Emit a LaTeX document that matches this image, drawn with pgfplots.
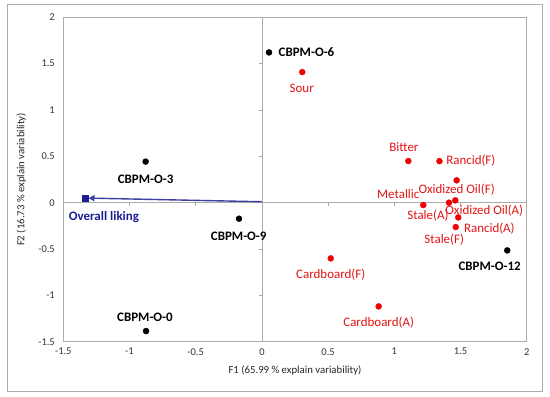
\documentclass[border=0pt]{standalone}
\usepackage{fontspec}
\setmainfont{Carlito}
\usepackage{pgfplots}
\usepackage{pgfplotstable}
\pgfplotsset{compat=1.18}
\usetikzlibrary{arrows.meta}
\definecolor{navyb}{RGB}{28,28,150}
\definecolor{lblred}{RGB}{225,20,20}
\definecolor{ptred}{RGB}{240,0,0}

\pgfplotstableread{
x y
0.054 1.621
-0.878 0.443
-0.173 -0.173
-0.875 -1.385
1.853 -0.515
}\obs

\pgfplotstableread{
x y
0.305 1.409
1.106 0.449
1.341 0.448
1.471 0.241
1.413 0.000
1.219 -0.026
1.461 0.025
1.483 -0.159
1.464 -0.263
0.520 -0.601
0.882 -1.119
}\attr

\begin{document}
\begin{tikzpicture}
\path[use as bounding box] (-63.3bp,-55.3bp) rectangle (486.7bp,341.7bp);
\draw[gray!65, line width=0.9bp] (-56.3bp,-50bp) rectangle (479.4bp,337.7bp);
\begin{axis}[
  at={(0,0)}, anchor=south west,
  scale only axis, width=463.4bp, height=324.4bp,
  xmin=-1.5, xmax=2, ymin=-1.5, ymax=2,
  xtick={-1.5,-1,-0.5,0,0.5,1,1.5,2},
  ytick={-1.5,-1,-0.5,0,0.5,1,1.5,2},
  major tick length=0,
  axis line style={draw=gray!65, line width=0.9bp},
  ticklabel style={font=\fontsize{10.5}{12}\selectfont, text=black!80},
  /pgf/number format/assume math mode=true,
  yticklabel style={xshift=-5bp},
  xticklabel style={yshift=-3bp},
  clip=false,
]
\draw[gray!65, line width=0.8bp] (axis cs:0,-1.5) -- (axis cs:0,2);
\draw[gray!65, line width=0.8bp] (axis cs:-1.5,0) -- (axis cs:2,0);
\pgfplotsinvokeforeach{-1,-0.5,0.5,1,1.5}{
  \draw[gray!65, line width=0.8bp] ([yshift=-3bp]axis cs:#1,0) -- ([yshift=1bp]axis cs:#1,0);
}
\pgfplotsinvokeforeach{-1,-0.5,0.5,1,1.5}{
  \draw[gray!65, line width=0.8bp] ([xshift=-3bp]axis cs:0,#1) -- ([xshift=1bp]axis cs:0,#1);
}

\addplot[navyb!85, line width=1.4bp, -{Triangle[length=6bp,width=6bp]}, shorten >=3.5bp] coordinates {(0,0.01) (-1.336,0.050)};
\addplot[only marks, mark=square*, mark size=3.3bp, navyb] coordinates {(-1.336,0.050)};

\addplot[only marks, mark=*, mark size=3bp, black] table {\obs};
\addplot[only marks, mark=*, mark size=3bp, ptred, mark options={draw=ptred}] table {\attr};

\begin{scope}[every node/.style={font=\fontsize{13}{15}\selectfont\bfseries, inner sep=0pt}]
\node at (axis cs:0.337,1.625) {CBPM-O-6};
\node at (axis cs:-0.878,0.251) {CBPM-O-3};
\node at (axis cs:-0.175,-0.360) {CBPM-O-9};
\node at (axis cs:-0.883,-1.241) {CBPM-O-0};
\node at (axis cs:1.720,-0.684) {CBPM-O-12};
\node[text=navyb] at (axis cs:-1.193,-0.155) {Overall liking};
\end{scope}

\begin{scope}[every node/.style={font=\fontsize{13}{15}\selectfont, text=lblred, inner sep=0pt}]
\node at (axis cs:0.301,1.229) {Sour};
\node at (axis cs:1.073,0.600) {Bitter};
\node at (axis cs:1.578,0.456) {Rancid(F)};
\node at (axis cs:1.471,0.140) {Oxidized Oil(F)};
\node at (axis cs:1.030,0.097) {Metallic};
\node at (axis cs:1.254,-0.137) {Stale(A)};
\node at (axis cs:1.680,-0.083) {Oxidized Oil(A)};
\node at (axis cs:1.718,-0.281) {Rancid(A)};
\node at (axis cs:1.377,-0.399) {Stale(F)};
\node at (axis cs:0.520,-0.774) {Cardboard(F)};
\node at (axis cs:0.882,-1.291) {Cardboard(A)};
\end{scope}
\end{axis}
\node[font=\fontsize{10.8}{12}\selectfont, text=black!85] at (231.7bp,-29bp) {F1 (65.99 \% explain variability)};
\node[font=\fontsize{10.8}{12}\selectfont, text=black!85, rotate=90] at (-42bp,162.2bp) {F2 (16.73 \% explain variability)};
\end{tikzpicture}
\end{document}
